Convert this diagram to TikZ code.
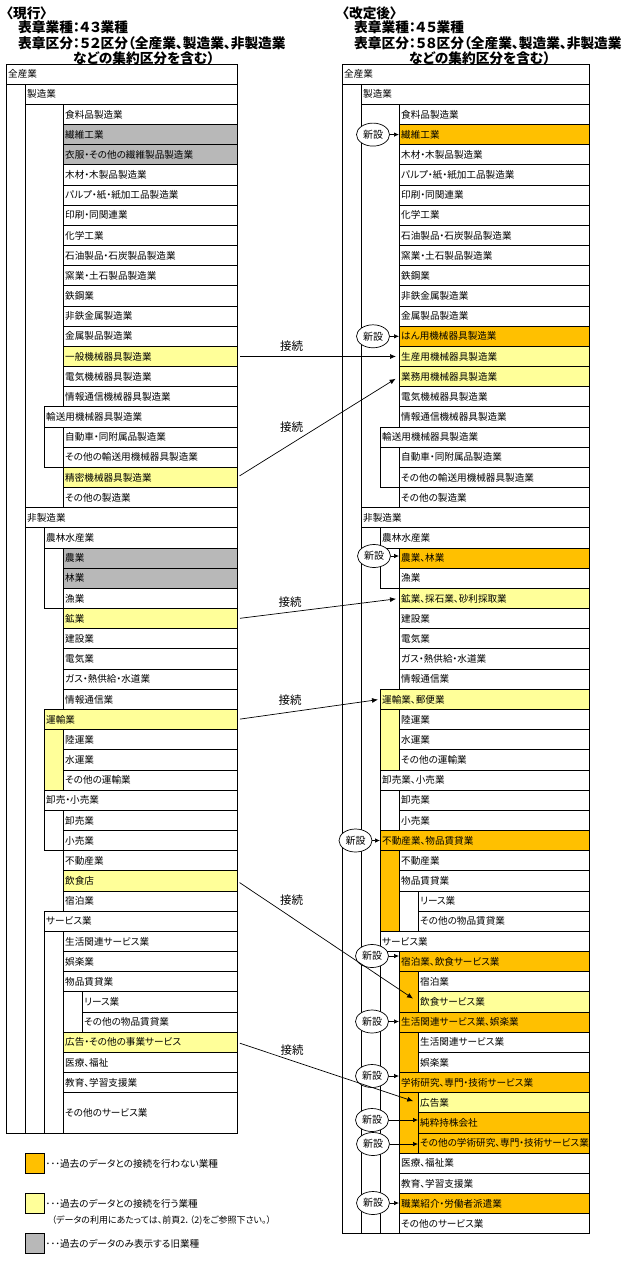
\documentclass[tikz,border=0pt]{standalone}
\usepackage{fontspec}
\setmainfont{Noto Sans CJK JP}[RawFeature=+palt]
\usetikzlibrary{shapes.geometric,arrows.meta}
\definecolor{orng}{HTML}{FFC000}
\definecolor{ylw}{HTML}{FFFF99}
\definecolor{gry}{HTML}{B8B8B8}
\newcommand\mkcell[7]{\node[cellbox, fill=#6, minimum width={(#3-#2)*1pt}, minimum height={#5*20.17*1pt}] (#1) at (#2,{64+(#4-1)*20.17}) {};\node[celltext] (#1t) at (#1.west) {#7};}
\newcommand\lcell[5]{\mkcell{#1}{#2}{237}{#3}{1}{#4}{#5}}
\newcommand\rcell[5]{\mkcell{#1}{#2}{589}{#3}{1}{#4}{#5}}
\newcommand\mkgrp[5]{\path[grp, fill=#5] (#1,{64+(#3-1)*20.17}) rectangle (#2,{64+#4*20.17});}
\begin{document}
\begin{tikzpicture}[x=1pt,y=-1pt,
  cellbox/.style={draw, line width=0.9pt, anchor=north west, inner sep=0pt, outer sep=0pt},
  celltext/.style={anchor=west, inner sep=0pt, xshift=2pt, font=\fontsize{9.6}{10}\selectfont},
  grp/.style={draw, line width=0.9pt},
  head/.style={anchor=west, inner sep=0pt, font=\fontsize{13.7}{14}\selectfont\bfseries},
  newbox/.style={ellipse, draw, fill=white, line width=0.7pt, minimum width=33pt, minimum height=23pt, inner sep=0pt, font=\fontsize{10}{11}\selectfont},
  newarr/.style={-{Latex[length=5pt,width=4.5pt]}, line width=0.7pt},
  conn/.style={-{Latex[length=6pt,width=5pt]}, line width=0.7pt, shorten <=3pt},
  connlbl/.style={inner sep=0pt, font=\fontsize{11.5}{12}\selectfont},
  legbox/.style={draw, line width=0.9pt, anchor=north west, minimum width=19pt, minimum height=20pt, inner sep=0pt, outer sep=0pt},
  legtext/.style={anchor=west, inner sep=0pt, font=\fontsize{9.6}{10}\selectfont},
]
\useasboundingbox[fill=white] (0,0) rectangle (630,1261);
% headers
\node[head] (hL0) at (6,13.3) {〈現行〉};
\node[head] (hL1) at (18,27) {表章業種：４３業種};
\node[head] (hL2) at (18,43) {表章区分：５２区分（全産業、製造業、非製造業};
\node[head] (hL3) at (73,58) {などの集約区分を含む）};
\node[head] (hR0) at (342,13.3) {〈改定後〉};
\node[head] (hR1) at (354,27) {表章業種：４５業種};
\node[head] (hR2) at (354,43) {表章区分：５８区分（全産業、製造業、非製造業};
\node[head] (hR3) at (409,58) {などの集約区分を含む）};
% ---------- left groups
\mkgrp{6}{237}{1}{53}{white}
\mkgrp{25}{237}{2}{22}{white}
\mkgrp{44}{237}{18}{20}{white}
\mkgrp{25}{237}{23}{53}{white}
\mkgrp{44}{237}{24}{27}{white}
\mkgrp{44}{237}{33}{36}{ylw}
\mkgrp{44}{237}{37}{39}{white}
\mkgrp{44}{237}{43}{53}{white}
\mkgrp{63}{237}{46}{48}{white}
% ---------- left cells
\lcell{L1}{6}{1}{white}{全産業}
\lcell{L2}{25}{2}{white}{製造業}
\lcell{L3}{63}{3}{white}{食料品製造業}
\lcell{L4}{63}{4}{gry}{繊維工業}
\lcell{L5}{63}{5}{gry}{衣服・その他の繊維製品製造業}
\lcell{L6}{63}{6}{white}{木材・木製品製造業}
\lcell{L7}{63}{7}{white}{パルプ・紙・紙加工品製造業}
\lcell{L8}{63}{8}{white}{印刷・同関連業}
\lcell{L9}{63}{9}{white}{化学工業}
\lcell{L10}{63}{10}{white}{石油製品・石炭製品製造業}
\lcell{L11}{63}{11}{white}{窯業・土石製品製造業}
\lcell{L12}{63}{12}{white}{鉄鋼業}
\lcell{L13}{63}{13}{white}{非鉄金属製造業}
\lcell{L14}{63}{14}{white}{金属製品製造業}
\lcell{L15}{63}{15}{ylw}{一般機械器具製造業}
\lcell{L16}{63}{16}{white}{電気機械器具製造業}
\lcell{L17}{63}{17}{white}{情報通信機械器具製造業}
\lcell{L18}{44}{18}{white}{輸送用機械器具製造業}
\lcell{L19}{63}{19}{white}{自動車・同附属品製造業}
\lcell{L20}{63}{20}{white}{その他の輸送用機械器具製造業}
\lcell{L21}{63}{21}{ylw}{精密機械器具製造業}
\lcell{L22}{63}{22}{white}{その他の製造業}
\lcell{L23}{25}{23}{white}{非製造業}
\lcell{L24}{44}{24}{white}{農林水産業}
\lcell{L25}{63}{25}{gry}{農業}
\lcell{L26}{63}{26}{gry}{林業}
\lcell{L27}{63}{27}{white}{漁業}
\lcell{L28}{63}{28}{ylw}{鉱業}
\lcell{L29}{63}{29}{white}{建設業}
\lcell{L30}{63}{30}{white}{電気業}
\lcell{L31}{63}{31}{white}{ガス・熱供給・水道業}
\lcell{L32}{63}{32}{white}{情報通信業}
\lcell{L33}{44}{33}{ylw}{運輸業}
\lcell{L34}{63}{34}{white}{陸運業}
\lcell{L35}{63}{35}{white}{水運業}
\lcell{L36}{63}{36}{white}{その他の運輸業}
\lcell{L37}{44}{37}{white}{卸売・小売業}
\lcell{L38}{63}{38}{white}{卸売業}
\lcell{L39}{63}{39}{white}{小売業}
\lcell{L40}{63}{40}{white}{不動産業}
\lcell{L41}{63}{41}{ylw}{飲食店}
\lcell{L42}{63}{42}{white}{宿泊業}
\lcell{L43}{44}{43}{white}{サービス業}
\lcell{L44}{63}{44}{white}{生活関連サービス業}
\lcell{L45}{63}{45}{white}{娯楽業}
\lcell{L46}{63}{46}{white}{物品賃貸業}
\lcell{L47}{82}{47}{white}{リース業}
\lcell{L48}{82}{48}{white}{その他の物品賃貸業}
\lcell{L49}{63}{49}{ylw}{広告・その他の事業サービス}
\lcell{L50}{63}{50}{white}{医療、福祉}
\lcell{L51}{63}{51}{white}{教育、学習支援業}
\mkcell{L52}{63}{237}{52}{2}{white}{その他のサービス業}
% ---------- right groups
\mkgrp{342}{589}{1}{58}{white}
\mkgrp{361}{589}{2}{22}{white}
\mkgrp{380}{589}{19}{21}{white}
\mkgrp{361}{589}{23}{58}{white}
\mkgrp{380}{589}{24}{26}{white}
\mkgrp{380}{589}{32}{35}{ylw}
\mkgrp{380}{589}{36}{38}{white}
\mkgrp{380}{589}{39}{43}{orng}
\mkgrp{399}{589}{41}{43}{white}
\mkgrp{380}{589}{44}{58}{white}
\mkgrp{399}{589}{45}{47}{orng}
\mkgrp{399}{589}{48}{50}{orng}
\mkgrp{399}{589}{51}{54}{orng}
% ---------- right cells
\rcell{R1}{342}{1}{white}{全産業}
\rcell{R2}{361}{2}{white}{製造業}
\rcell{R3}{399}{3}{white}{食料品製造業}
\rcell{R4}{399}{4}{orng}{繊維工業}
\rcell{R5}{399}{5}{white}{木材・木製品製造業}
\rcell{R6}{399}{6}{white}{パルプ・紙・紙加工品製造業}
\rcell{R7}{399}{7}{white}{印刷・同関連業}
\rcell{R8}{399}{8}{white}{化学工業}
\rcell{R9}{399}{9}{white}{石油製品・石炭製品製造業}
\rcell{R10}{399}{10}{white}{窯業・土石製品製造業}
\rcell{R11}{399}{11}{white}{鉄鋼業}
\rcell{R12}{399}{12}{white}{非鉄金属製造業}
\rcell{R13}{399}{13}{white}{金属製品製造業}
\rcell{R14}{399}{14}{orng}{はん用機械器具製造業}
\rcell{R15}{399}{15}{ylw}{生産用機械器具製造業}
\rcell{R16}{399}{16}{ylw}{業務用機械器具製造業}
\rcell{R17}{399}{17}{white}{電気機械器具製造業}
\rcell{R18}{399}{18}{white}{情報通信機械器具製造業}
\rcell{R19}{380}{19}{white}{輸送用機械器具製造業}
\rcell{R20}{399}{20}{white}{自動車・同附属品製造業}
\rcell{R21}{399}{21}{white}{その他の輸送用機械器具製造業}
\rcell{R22}{399}{22}{white}{その他の製造業}
\rcell{R23}{361}{23}{white}{非製造業}
\rcell{R24}{380}{24}{white}{農林水産業}
\rcell{R25}{399}{25}{orng}{農業、林業}
\rcell{R26}{399}{26}{white}{漁業}
\rcell{R27}{399}{27}{ylw}{鉱業、採石業、砂利採取業}
\rcell{R28}{399}{28}{white}{建設業}
\rcell{R29}{399}{29}{white}{電気業}
\rcell{R30}{399}{30}{white}{ガス・熱供給・水道業}
\rcell{R31}{399}{31}{white}{情報通信業}
\rcell{R32}{380}{32}{ylw}{運輸業、郵便業}
\rcell{R33}{399}{33}{white}{陸運業}
\rcell{R34}{399}{34}{white}{水運業}
\rcell{R35}{399}{35}{white}{その他の運輸業}
\rcell{R36}{380}{36}{white}{卸売業、小売業}
\rcell{R37}{399}{37}{white}{卸売業}
\rcell{R38}{399}{38}{white}{小売業}
\rcell{R39}{380}{39}{orng}{不動産業、物品賃貸業}
\rcell{R40}{399}{40}{white}{不動産業}
\rcell{R41}{399}{41}{white}{物品賃貸業}
\rcell{R42}{418}{42}{white}{リース業}
\rcell{R43}{418}{43}{white}{その他の物品賃貸業}
\rcell{R44}{380}{44}{white}{サービス業}
\rcell{R45}{399}{45}{orng}{宿泊業、飲食サービス業}
\rcell{R46}{418}{46}{white}{宿泊業}
\rcell{R47}{418}{47}{ylw}{飲食サービス業}
\rcell{R48}{399}{48}{orng}{生活関連サービス業、娯楽業}
\rcell{R49}{418}{49}{white}{生活関連サービス業}
\rcell{R50}{418}{50}{white}{娯楽業}
\rcell{R51}{399}{51}{orng}{学術研究、専門・技術サービス業}
\rcell{R52}{418}{52}{ylw}{広告業}
\rcell{R53}{418}{53}{orng}{純粋持株会社}
\rcell{R54}{418}{54}{orng}{その他の学術研究、専門・技術サービス業}
\rcell{R55}{399}{55}{white}{医療、福祉業}
\rcell{R56}{399}{56}{white}{教育、学習支援業}
\rcell{R57}{399}{57}{orng}{職業紹介・労働者派遣業}
\rcell{R58}{399}{58}{white}{その他のサービス業}
% ---------- 新設
\node[newbox] (N4) at (373,134.6) {新設};
\node[newbox] (N14) at (373,336.3) {新設};
\node[newbox] (N25) at (374,556) {新設};
\node[newbox] (N39) at (355.5,840.5) {新設};
\node[newbox] (N45) at (372,956) {新設};
\node[newbox] (N48) at (372,1021.5) {新設};
\node[newbox] (N51) at (372,1076) {新設};
\node[newbox] (N53) at (372,1120) {新設};
\node[newbox] (N54) at (373,1144) {新設};
\node[newbox] (N57) at (373,1203) {新設};
\draw[newarr] (N4.east) -- (N4.east -| R4.west);
\draw[newarr] (N14.east) -- (N14.east -| R14.west);
\draw[newarr] (N25.east) -- (N25.east -| R25.west);
\draw[newarr] (N39.east) -- (N39.east -| R39.west);
\draw[newarr] (N45.east) -- (N45.east -| R45.west);
\draw[newarr] (N48.east) -- (N48.east -| R48.west);
\draw[newarr] (N51.east) -- (N51.east -| R51.west);
\draw[newarr] (N53.east) -- (N53.east -| R53.west);
\draw[newarr] (N54.east) -- (N54.east -| R54.west);
\draw[newarr] (N57.east) -- (N57.east -| R57.west);
% ---------- 接続
\draw[conn, shorten >=3pt] (L15.east) -- (R15.west);
\draw[conn, shorten >=4pt] (L21.east) -- (R16.west);
\draw[conn, shorten >=3pt] (L28.east) -- (R27.west);
\draw[conn, shorten >=2pt] (L33.east) -- (R32.west);
\draw[conn, shorten >=6pt] (L41.east) -- (R47.west);
\draw[conn, shorten >=5pt] (L49.east) -- (R52.west);
\node[connlbl] (k1) at (291.5,346.5) {接続};
\node[connlbl] (k2) at (291.5,427) {接続};
\node[connlbl] (k3) at (290,602) {接続};
\node[connlbl] (k4) at (290,700) {接続};
\node[connlbl] (k5) at (291.5,900) {接続};
\node[connlbl] (k6) at (292,1050) {接続};
% ---------- legend
\node[legbox, fill=orng] (B1) at (25,1153) {};
\node[legtext] (B1t) at (45.5,1164) {･･･過去のデータとの接続を行わない業種};
\node[legbox, fill=ylw] (B2) at (25,1193) {};
\node[legtext] (B2t) at (45.5,1204) {･･･過去のデータとの接続を行う業種};
\node[legtext, font=\fontsize{9}{10}\selectfont] (B2n) at (51.5,1221) {（データの利用にあたっては、前頁2．（2)をご参照下さい。）};
\node[legbox, fill=gry] (B3) at (25,1233.5) {};
\node[legtext] (B3t) at (45.5,1244) {･･･過去のデータのみ表示する旧業種};
\end{tikzpicture}
\end{document}
